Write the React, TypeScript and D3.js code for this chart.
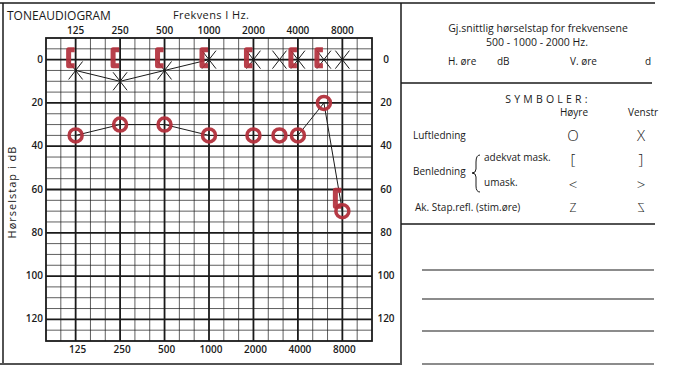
import React from 'react';
import { scaleLog, scaleLinear, line, range } from 'd3';

// frequencies and hearing levels
const freqs = [125, 250, 500, 1000, 2000, 3000, 4000, 6000, 8000];
const rightAir = [35, 30, 30, 35, 35, 35, 35, 20, 70];
const leftAir = [5, 10, 5, 0, 0, 0, 0, 0, 0];
const boneFreqs = [125, 250, 500, 1000, 2000, 4000, 6000, 8000];
const rightBone = [0, 0, 0, 0, 0, 0, 0, 65];

const tickFreqs = [125, 250, 500, 1000, 2000, 4000, 8000];
const dbTicks = [0, 20, 40, 60, 80, 100, 120];

const RED = '#b3303c';
const INK = '#1a1a1a';
const FONT = '"Open Sans", "DejaVu Sans", sans-serif';

export default function App() {
  const x = scaleLog().base(2)
    .domain([125 * Math.pow(2, -2 / 3), 8000 * Math.pow(2, 2 / 3)])
    .range([46, 372]);
  const y = scaleLinear().domain([-10, 130]).range([38, 341]);

  const [x0, x1] = x.range();
  const [y0, y1] = y.range();

  // third-octave verticals, 5 dB horizontals
  const vLines = range(-1, 20).map(k => ({ f: 125 * Math.pow(2, k / 3), bold: k % 3 === 0 }));
  const hLines = range(-5, 130, 5).map(d => ({ d, bold: d % 20 === 0 }));

  const airLine = line<number>().x((d, i) => x(freqs[i])).y(d => y(d));

  return (
    <svg width={674} height={367} style={{ position: 'absolute', left: 0, top: 0, background: '#fff' }}
      fontFamily={FONT}>
      {/* form frame */}
      <g stroke={INK} fill="none">
        <line x1={0} x2={655} y1={3} y2={3} strokeWidth={1.5} />
        <line x1={3} x2={3} y1={3} y2={363} strokeWidth={1.5} />
        <line x1={0} x2={402} y1={364} y2={364} strokeWidth={1.5} />
        <line x1={401} x2={401} y1={3} y2={363} strokeWidth={1.5} />
        <line x1={401} x2={652} y1={83} y2={83} strokeWidth={1.3} />
        <line x1={401} x2={655} y1={224} y2={224} strokeWidth={1.3} />
        {[270, 299, 331, 364].map(v => (
          <line key={v} x1={422} x2={654} y1={v} y2={v} strokeWidth={1.2} />
        ))}
      </g>

      <text x={7} y={20} fontSize={12} fill={INK}>TONEAUDIOGRAM</text>
      <text x={173} y={19} fontSize={11} fill={INK} letterSpacing={0.4}>Frekvens I Hz.</text>

      {/* grid */}
      <g stroke={INK} fill="none">
        {vLines.map(({ f, bold }, i) => (
          <line key={'v' + i} x1={x(f)} x2={x(f)} y1={y0} y2={y1}
            strokeWidth={bold ? 1.8 : 0.7} />
        ))}
        {hLines.map(({ d, bold }) => (
          <line key={'h' + d} x1={x0} x2={x1} y1={y(d)} y2={y(d)}
            strokeWidth={bold ? 1.8 : 0.7} />
        ))}
        <rect x={x0} y={y0} width={x1 - x0} height={y1 - y0} strokeWidth={1.8} />
      </g>

      {/* axis labels */}
      <g fontSize={10} fontWeight={600} fill={INK} textAnchor="middle">
        {tickFreqs.map(f => (
          <React.Fragment key={f}>
            <text x={x(f)} y={34}>{f}</text>
            <text x={x(f) + 2} y={353}>{f}</text>
          </React.Fragment>
        ))}
      </g>
      <g fontSize={10} fontWeight={600} fill={INK}>
        {dbTicks.map(d => (
          <React.Fragment key={d}>
            <text x={43} y={y(d) + 3} textAnchor="end">{d}</text>
            <text x={386} y={y(d) + 3} textAnchor="middle">{d}</text>
          </React.Fragment>
        ))}
      </g>
      <text transform="translate(16,192) rotate(-90)" fontSize={11} fill={INK}
        textAnchor="middle" letterSpacing={1}>Hørselstap i dB</text>

      {/* left ear, air conduction */}
      <path d={airLine(leftAir) || ''} fill="none" stroke={INK} strokeWidth={1} />
      <g stroke={INK} strokeWidth={1}>
        {leftAir.map((d, i) => {
          const cx = x(freqs[i]), cy = y(d);
          return (
            <path key={i} d={`M${cx - 7},${cy - 9}L${cx + 7},${cy + 9}M${cx + 7},${cy - 9}L${cx - 7},${cy + 9}`} />
          );
        })}
      </g>

      {/* right ear, air conduction */}
      <path d={airLine(rightAir) || ''} fill="none" stroke={INK} strokeWidth={1} />

      {/* right ear, bone conduction masked */}
      <g stroke={RED} strokeWidth={5} fill="none" strokeLinejoin="round" opacity={0.92}>
        {rightBone.map((d, i) => {
          const cx = x(boneFreqs[i]), cy = y(d) - 2;
          return <path key={i} d={`M${cx - 1},${cy - 8}L${cx - 7},${cy - 8}L${cx - 7},${cy + 8}L${cx - 1},${cy + 8}`} />;
        })}
      </g>
      <g stroke={RED} strokeWidth={3.5} fill="none" opacity={0.95}>
        {rightAir.map((d, i) => (
          <circle key={i} cx={x(freqs[i])} cy={y(d)} r={6.5} />
        ))}
      </g>

      {/* right panel */}
      <g fill={INK} fontSize={10}>
        <text x={538} y={32} textAnchor="middle" fontSize={10.5}>Gj.snittlig hørselstap for frekvensene</text>
        <text x={537} y={46} textAnchor="middle" fontSize={10.5}>500  -  1000  -  2000 Hz.</text>
        <text x={448} y={65}>H. øre</text>
        <text x={497} y={65}>dB</text>
        <text x={570} y={65}>V. øre</text>
        <text x={645} y={65}>d</text>
        <text x={548} y={103} textAnchor="middle" fontSize={10.5} letterSpacing={3.2}>SYMBOLER:</text>
        <text x={574} y={116} textAnchor="middle">Høyre</text>
        <text x={628} y={116}>Venstr</text>
        <text x={413} y={139}>Luftledning</text>
        <text x={413} y={175}>Benledning</text>
        <text x={484} y={161}>adekvat mask.</text>
        <text x={484} y={186}>umask.</text>
        <text x={415} y={211}>Ak. Stap.refl. (stim.øre)</text>
        <g textAnchor="middle" fontSize={15} fontWeight={300}>
          <text x={573} y={141}>O</text>
          <text x={641} y={141}>X</text>
          <text x={573} y={165}>[</text>
          <text x={641} y={165}>]</text>
          <text x={573} y={190}>&lt;</text>
          <text x={641} y={190}>&gt;</text>
          <text x={573} y={212} fontSize={12}>Z</text>
          <text transform="translate(641,212) scale(-1,1)" fontSize={12}>Z</text>
        </g>
      </g>
      <path d="M480,155 Q476,155 476,162 L476,169 Q476,173 472,173 Q476,173 476,177 L476,186 Q476,192 480,192"
        fill="none" stroke={INK} strokeWidth={1} />
    </svg>
  );
}
